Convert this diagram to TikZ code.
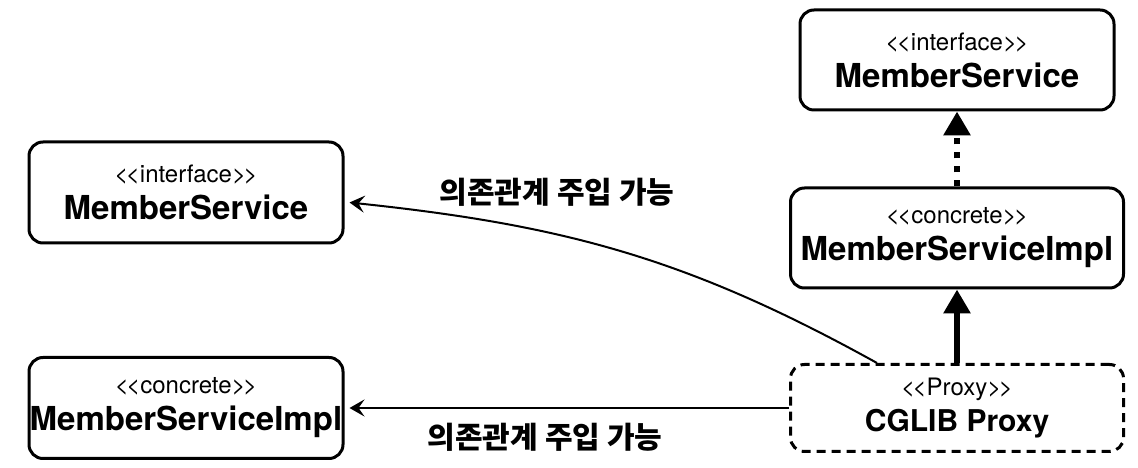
\documentclass[tikz,border=0pt]{standalone}
\usepackage{fontspec}
\usepackage{tikz}
\usetikzlibrary{arrows.meta}
\newfontfamily\umlfont{TeX Gyre Heros}
\newfontfamily\krfont{Noto Sans CJK KR}
\newcommand{\dlt}{<\kern-2.5pt<}
\newcommand{\dgt}{>\kern-2.5pt>}
\newcommand{\stereo}[1]{{\fontsize{24}{37}\selectfont\dlt#1\dgt}}
\newcommand{\cname}[1]{{\fontsize{33}{37}\selectfont\bfseries #1}}
\newcommand{\pname}[1]{{\fontsize{30}{36}\selectfont\bfseries #1}}

\begin{document}
\begin{tikzpicture}[x=1pt,y=1pt,
	box/.style={draw=black,line width=3pt,rounded corners=14pt,align=center,
		font=\umlfont\fontsize{22}{37}\selectfont,inner sep=0pt},
	proxybox/.style={box,dash pattern=on 9pt off 6pt,
		font=\umlfont\fontsize{22}{36}\selectfont},
	dep/.style={-{Stealth[length=15pt,width=17pt,inset=6pt]},line width=2pt},
	real/.style={-{Triangle[length=24pt,width=26pt]},line width=6.5pt},
	dilabel/.style={font=\krfont\bfseries\fontsize{30}{34}\selectfont}]
	\fill[white] (0,0) rectangle (1138,468);
	\useasboundingbox (0,0) rectangle (1138,468);

	% left side
	\node[box,minimum width=314pt,minimum height=101pt] (ifaceL) at (186,275.5)
		{\stereo{interface}\\\cname{MemberService}};
	\node[box,minimum width=314pt,minimum height=101pt] (implL) at (186,60)
		{\stereo{concrete}\\\cname{MemberServiceImpl}};

	% right side
	\node[box,minimum width=314pt,minimum height=100pt] (ifaceR) at (957,408)
		{\stereo{interface}\\\cname{MemberService}};
	\node[box,minimum width=333pt,minimum height=100pt] (implR) at (957,230)
		{\stereo{concrete}\\\cname{MemberServiceImpl}};
	\node[proxybox,minimum width=333pt,minimum height=87pt] (proxy) at (957,60)
		{\stereo{Proxy}\\\pname{CGLIB Proxy}};

	\node[dilabel] (injTop) at (557,276) {의존관계 주입 가능};
	\node[dilabel] (injBot) at (545,31) {의존관계 주입 가능};

	\draw[real,dash pattern=on 6pt off 8pt] (implR.north) -- (ifaceR.south);
	\draw[real] (proxy.north) -- (implR.south);
	\draw[dep] ([xshift=-80pt]proxy.north) to[out=151,in=-6] ([xshift=5pt,yshift=-10pt]ifaceL.east);
	\draw[dep] (proxy.west) -- ([xshift=5pt]implL.east);
\end{tikzpicture}
\end{document}
